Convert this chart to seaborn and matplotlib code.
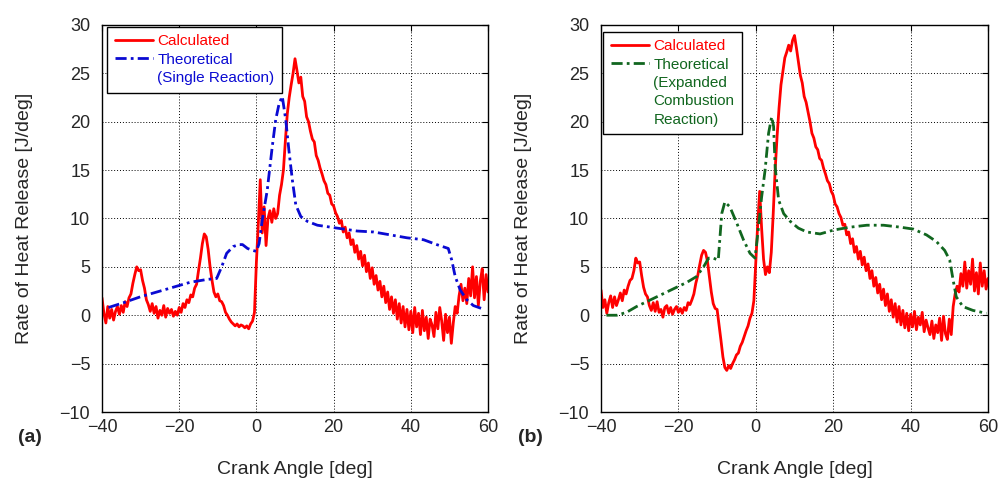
import numpy as np
import matplotlib
matplotlib.use("Agg")
import matplotlib.pyplot as plt
import seaborn as sns
from matplotlib.lines import Line2D

# crank angle grid of the measured curves (0.5 deg steps)
angle = np.arange(-40, 60.5, 0.5)

# (a) calculated heat release
calc_a = [
    1.8, 0.2, -0.8, 0.9, -0.3, 0.6, -0.5, 0.4, 0.9, 0.1,
    1.0, 0.3, 1.4, 0.9, 1.8, 2.2, 3.3, 4.2, 5.0, 4.6,
    4.7, 3.6, 2.8, 1.6, 1.1, 0.4, 1.2, 0.2, 0.9, -0.3,
    0.5, 0.0, 1.0, -0.2, 0.7, 0.2, 0.6, -0.1, 0.4, 0.0,
    0.8, 0.3, 1.2, 0.8, 1.6, 1.3, 2.1, 1.9, 2.8, 3.2,
    4.6, 5.9, 7.4, 8.4, 8.1, 6.8, 5.0, 3.6, 2.4, 1.9,
    2.2, 1.5, 1.4, 1.0, 0.3, 0.0, -0.4, -0.7, -0.9, -1.1,
    -0.9, -1.2, -1.0, -1.1, -1.3, -1.1, -1.4, -0.9, -0.6, 0.3,
    5.5, 9.5, 14.0, 8.5, 11.2, 7.2, 10.0, 10.8, 9.6, 11.0,
    10.0, 10.5, 12.4, 13.5, 15.0, 18.0, 20.8, 22.5, 23.8, 25.0,
    26.5, 25.3, 24.0, 24.6, 22.6, 22.1, 20.5, 20.0, 19.0, 18.2,
    17.9, 16.5, 16.0, 15.2, 14.6, 13.9, 13.5, 12.6, 12.4, 11.5,
    11.3, 10.6, 10.2, 9.5, 9.8, 8.6, 9.1, 8.0, 8.5, 7.3,
    7.8, 6.5, 7.2, 5.8, 6.6, 5.1, 6.2, 4.5, 5.4, 3.8,
    4.9, 3.2, 4.1, 2.6, 3.5, 1.9, 3.0, 1.3, 2.4, 0.6,
    1.9, 0.2, 1.6, -0.4, 1.2, -0.8, 0.9, -1.2, 0.6, -1.5,
    0.4, -1.8, 0.8, -1.2, 0.2, -2.0, 0.5, -1.6, -0.2, -2.4,
    -0.4, -1.0, -2.2, 0.3, -1.4, 0.8, -0.6, -2.6, 0.1, -1.8,
    -0.2, -2.9, -0.8, 0.9, 0.2, 2.0, 3.2, 1.5, 2.8, 1.2,
    3.8, 2.0, 5.0, 1.8, 4.0, 1.0, 3.5, 4.8, 1.6, 4.2,
    2.4,
]

# (b) calculated heat release
calc_b = [
    2.6, 0.8, 1.6, 0.2, 1.3, 2.0, 0.8, 1.9, 1.0, 1.6,
    2.3, 1.5, 2.6, 2.2, 3.0, 3.6, 3.8, 4.6, 5.9, 5.4,
    5.5, 4.1, 2.9, 2.2, 1.9, 1.0, 0.5, 1.3, 0.4, 1.4,
    0.3, 0.6, -0.2, 0.8, 1.0, 0.2, 0.8, 0.1, 0.6, 0.9,
    0.3, 0.7, 0.2, 0.8, 0.5, 1.3, 1.1, 1.6, 2.2, 3.3,
    4.1, 5.2, 6.2, 6.7, 6.5, 5.6, 4.0, 2.4, 1.2, 0.7,
    0.6, -1.0, -2.6, -4.3, -5.4, -5.7, -5.2, -5.5, -5.0, -4.6,
    -4.1, -3.9, -3.2, -2.8, -2.2, -1.6, -1.1, -0.3, 0.2, 1.5,
    5.5, 9.5, 12.8, 9.0, 5.8, 4.2, 5.0, 4.4, 6.5, 10.5,
    15.0, 18.5, 21.4, 23.8, 25.2, 26.6, 27.2, 27.9, 27.3, 28.4,
    28.9, 27.6, 26.2, 24.8, 24.0, 22.6, 22.0, 21.0, 20.0, 18.8,
    18.3, 17.4, 17.1, 16.2, 16.0, 15.2, 14.6, 13.9, 13.6, 12.8,
    12.4, 11.5, 11.2, 10.5, 10.1, 9.3, 9.4, 8.3, 8.6, 7.4,
    7.9, 6.5, 7.1, 5.8, 6.6, 5.2, 6.0, 4.6, 5.3, 3.8,
    4.6, 3.0, 3.9, 2.3, 3.2, 1.6, 2.7, 1.0, 2.2, 0.4,
    1.6, -0.2, 1.2, -0.7, 0.9, -1.0, 0.5, -1.3, 0.2, -1.6,
    0.1, -1.2, 0.4, -1.5, -0.2, -1.0, 0.3, -1.7, -0.5, -1.3,
    -2.0, -0.6, -2.4, -1.0, -1.8, -0.3, -2.6, -0.1, -1.9, -2.5,
    -0.4, -2.0, 0.9, 2.2, 3.0, 2.4, 4.3, 3.0, 5.5, 2.8,
    4.6, 3.2, 5.8, 2.5, 4.4, 2.2, 5.4, 3.0, 4.6, 2.7,
    3.8,
]

# (a) theoretical, single reaction
theo_a_x = [-38.3, -34.4, -30.1, -25.8, -21.5, -17.2, -12.8, -10.3, -9.0, -7.7,
            -6.0, -4.5, -3.6, -2.3, -1.0, 0.0, 0.7, 1.5, 2.8, 4.1,
            5.0, 5.9, 6.7, 7.6, 8.4, 9.3, 10.2, 11.5, 13.2, 15.8,
            19.2, 22.7, 26.1, 30.4, 34.7, 39.0, 43.3, 46.7, 49.7, 50.6,
            51.5, 52.8, 54.5, 56.2, 58.3]
theo_a_y = [0.8, 1.3, 1.9, 2.4, 2.9, 3.4, 3.7, 3.8, 5.0, 6.4,
            7.1, 7.3, 7.3, 6.9, 6.7, 6.6, 7.4, 9.8, 12.9, 17.4,
            20.2, 21.9, 22.6, 20.2, 17.1, 14.0, 11.4, 10.2, 9.7, 9.3,
            9.1, 8.9, 8.7, 8.6, 8.3, 8.0, 7.8, 7.3, 6.9, 5.7,
            4.0, 2.6, 1.6, 1.0, 0.7]

# (b) theoretical, expanded combustion reaction
theo_b_x = [-38.6, -35.9, -33.4, -30.8, -28.2, -25.6, -23.0, -20.4, -17.8, -15.3,
            -13.5, -12.2, -11.0, -9.7, -8.8, -8.0, -6.7, -4.9, -3.2, -1.5,
            -0.2, 0.7, 1.5, 2.4, 3.3, 4.1, 4.6, 5.0, 5.9, 7.2,
            8.9, 11.0, 13.2, 16.6, 20.1, 24.4, 28.7, 33.0, 37.3, 40.7,
            44.1, 46.7, 48.8, 50.1, 51.0, 51.8, 53.5, 56.1, 59.6]
theo_b_y = [0.0, 0.0, 0.3, 0.9, 1.4, 1.9, 2.4, 2.9, 3.4, 4.0,
            5.0, 5.9, 5.9, 5.7, 10.5, 11.7, 11.2, 9.5, 7.8, 6.4,
            5.9, 9.1, 12.2, 15.0, 18.8, 20.5, 19.5, 15.3, 11.9, 10.5,
            9.7, 9.0, 8.6, 8.4, 8.8, 9.1, 9.3, 9.3, 9.1, 8.9,
            8.3, 7.6, 6.7, 5.7, 3.6, 1.9, 0.9, 0.5, 0.2]

RED = "#ff0000"
BLUE = "#0a0ad2"
GREEN = "#11661f"

sns.set_style("white")
plt.rcParams["font.family"] = ["Liberation Sans", "DejaVu Sans"]

fig = plt.figure(figsize=(9.98, 4.78), dpi=100)
ax1 = fig.add_axes([0.1022, 0.138, 0.3868, 0.810])
ax2 = fig.add_axes([0.6022, 0.138, 0.3878, 0.810])


def draw_panel(ax, calc, tx, ty, tcolor, extra_lines, leg_anchor):
    sns.lineplot(x=angle, y=calc, ax=ax, color=RED, linewidth=2.0,
                 sort=False, estimator=None, label="Calculated")
    sns.lineplot(x=tx, y=ty, ax=ax, color=tcolor, linewidth=2.0,
                 sort=False, estimator=None, label="Theoretical")
    ax.lines[-1].set_dashes((4, 1.5, 1, 1.5))

    ax.set_xlim(-40, 60)
    ax.set_ylim(-10, 30)
    ax.set_xticks(range(-40, 61, 20))
    ax.set_yticks(range(-10, 31, 5))
    ax.grid(True, color="black", linestyle=(0, (1, 2)), linewidth=0.7)
    ax.tick_params(direction="in", length=4, top=True, right=True,
                   labelsize=13, color="black")
    ax.tick_params(axis="y", pad=8.5)
    ax.tick_params(axis="x", pad=5)
    for s in ax.spines.values():
        s.set_color("black")
        s.set_linewidth(1.0)

    ax.set_xlabel("Crank Angle [deg]", fontsize=14)
    ax.set_ylabel("Rate of Heat Release [J/deg]", fontsize=14)
    ax.xaxis.set_label_coords(0.5, -0.126)
    ax.yaxis.set_label_coords(-0.178, 0.5)

    handles, labels = ax.get_legend_handles_labels()
    for txt in extra_lines:
        handles.append(Line2D([], [], color="none"))
        labels.append(txt)
    leg = ax.legend(handles, labels, loc="upper left", bbox_to_anchor=leg_anchor,
                    borderaxespad=0, fontsize=11, handlelength=2.5,
                    handletextpad=0.3, labelspacing=0.28, borderpad=0.5,
                    frameon=True, fancybox=False, framealpha=1,
                    edgecolor="black")
    leg.get_frame().set_linewidth(1.0)
    cols = [RED] + [tcolor] * (len(labels) - 1)
    for t, c in zip(leg.get_texts(), cols):
        t.set_color(c)


draw_panel(ax1, calc_a, theo_a_x, theo_a_y, BLUE,
           ["(Single Reaction)"], (0.013, 0.995))
draw_panel(ax2, calc_b, theo_b_x, theo_b_y, GREEN,
           ["(Expanded", "Combustion", "Reaction)"], (0.005, 0.982))

fig.text(18 / 998, 1 - 437 / 478, "(a)", fontsize=14, fontweight="bold", va="center")
fig.text(518 / 998, 1 - 437 / 478, "(b)", fontsize=14, fontweight="bold", va="center")

fig.savefig("out.png", dpi=100)
